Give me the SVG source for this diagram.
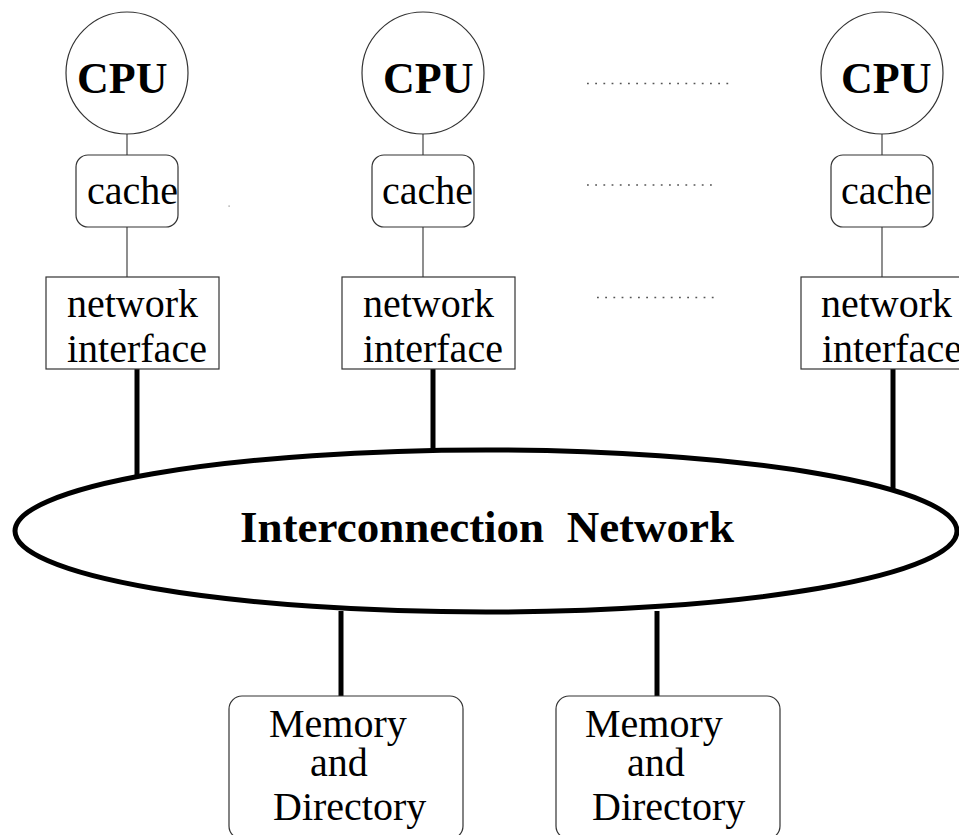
<svg xmlns="http://www.w3.org/2000/svg" width="959" height="835" viewBox="0 0 959 835">
  <style>
    .thin { fill: none; stroke: #444; stroke-width: 1.2; }
    .box { fill: #fff; stroke: #333; stroke-width: 1.2; }
    .bus { fill: none; stroke: #000; stroke-width: 5; }
    .dots { fill: none; stroke: #555; stroke-width: 1.3; stroke-dasharray: 1.8 6.4; }
    .lbl { font-family: "Liberation Serif", "Times New Roman", serif; font-size: 40px; fill: #000; }
    .cpu { font-family: "Liberation Serif", "Times New Roman", serif; font-size: 44px; font-weight: bold; fill: #000; }
    .net { font-family: "Liberation Serif", "Times New Roman", serif; font-size: 45px; font-weight: bold; fill: #000; white-space: pre; }
  </style>
  <rect width="959" height="835" fill="#fff"/>

  <!-- connectors -->
  <g id="connectors">
    <line class="thin" x1="127" y1="134" x2="127" y2="155"/>
    <line class="thin" x1="127" y1="227" x2="127" y2="277"/>
    <line class="thin" x1="423" y1="134" x2="423" y2="155"/>
    <line class="thin" x1="423" y1="227" x2="423" y2="277"/>
    <line class="thin" x1="882" y1="134" x2="882" y2="155"/>
    <line class="thin" x1="882" y1="227" x2="882" y2="277"/>
    <line class="bus" x1="137" y1="369" x2="137" y2="478"/>
    <line class="bus" x1="433" y1="369" x2="433" y2="452"/>
    <line class="bus" x1="893" y1="369" x2="893" y2="490"/>
    <line class="bus" x1="341" y1="611" x2="341" y2="696"/>
    <line class="bus" x1="657" y1="611" x2="657" y2="696"/>
    <!-- ellipsis rows between processors -->
    <line class="dots" x1="587" y1="83.5" x2="730" y2="83.5"/>
    <line class="dots" x1="587" y1="185" x2="715" y2="185"/>
    <line class="dots" x1="597" y1="297.5" x2="716" y2="297.5"/>
    <rect x="228.5" y="205.5" width="1.2" height="1.2" fill="#888"/>
  </g>

  <!-- processor 1 -->
  <g id="cpu1">
    <circle class="box" cx="127" cy="73" r="61"/>
    <text class="cpu" x="77" y="93">CPU</text>
  </g>
  <g id="cache1">
    <rect class="box" x="76" y="155" width="102" height="72" rx="12"/>
    <text class="lbl" x="87" y="204">cache</text>
  </g>
  <g id="ni1">
    <rect class="box" x="46" y="277" width="173" height="92"/>
    <text class="lbl" x="67" y="317">network</text>
    <text class="lbl" x="67" y="362">interface</text>
  </g>

  <!-- processor 2 -->
  <g id="cpu2">
    <circle class="box" cx="423" cy="73" r="61"/>
    <text class="cpu" x="383" y="93">CPU</text>
  </g>
  <g id="cache2">
    <rect class="box" x="372" y="155" width="102" height="72" rx="12"/>
    <text class="lbl" x="382" y="204">cache</text>
  </g>
  <g id="ni2">
    <rect class="box" x="342" y="277" width="173" height="92"/>
    <text class="lbl" x="363" y="317">network</text>
    <text class="lbl" x="363" y="362">interface</text>
  </g>

  <!-- processor n -->
  <g id="cpu3">
    <circle class="box" cx="882" cy="73" r="61"/>
    <text class="cpu" x="841" y="93">CPU</text>
  </g>
  <g id="cache3">
    <rect class="box" x="831" y="155" width="102" height="72" rx="12"/>
    <text class="lbl" x="841" y="204">cache</text>
  </g>
  <g id="ni3">
    <rect class="box" x="801" y="277" width="173" height="92"/>
    <text class="lbl" x="821" y="317">network</text>
    <text class="lbl" x="822" y="362">interface</text>
  </g>

  <!-- shared interconnect -->
  <g id="network">
    <ellipse cx="486" cy="531" rx="471" ry="81" fill="#fff" stroke="#000" stroke-width="5"/>
    <text class="net" x="240" y="542" xml:space="preserve">Interconnection  Network</text>
  </g>

  <!-- memory modules -->
  <g id="mem1">
    <rect class="box" x="229" y="696" width="234" height="143" rx="13"/>
    <text class="lbl" x="269" y="737">Memory</text>
    <text class="lbl" x="310" y="776">and</text>
    <text class="lbl" x="273" y="820">Directory</text>
  </g>
  <g id="mem2">
    <rect class="box" x="556" y="696" width="224" height="143" rx="13"/>
    <text class="lbl" x="585" y="737">Memory</text>
    <text class="lbl" x="627" y="776">and</text>
    <text class="lbl" x="592" y="820">Directory</text>
  </g>
</svg>
